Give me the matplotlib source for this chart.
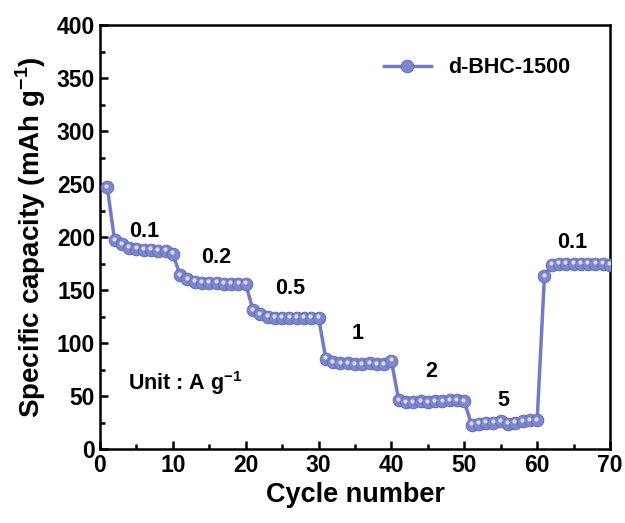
import numpy as np
import matplotlib
matplotlib.use('Agg')
import matplotlib.pyplot as plt

plt.rcParams['font.family'] = ['Liberation Sans', 'DejaVu Sans']
plt.rcParams['font.weight'] = 'bold'
plt.rcParams['mathtext.fontset'] = 'custom'
plt.rcParams['mathtext.bf'] = 'Liberation Sans:bold'
plt.rcParams['mathtext.rm'] = 'Liberation Sans:bold'

# rate capability data
cycles = np.arange(1, 71)
capacity = [247, 197, 193, 190, 189, 188, 188, 187, 187, 184,
            164, 160, 158, 157, 157, 157, 156, 156, 156, 156,
            131, 127, 125, 124, 124, 124, 124, 124, 124, 124,
            85, 82, 81, 81, 80, 80, 81, 80, 80, 83,
            46, 44, 44, 45, 44, 45, 45, 46, 46, 45,
            23, 24, 25, 25, 26, 24, 25, 26, 27, 27,
            163, 174, 175, 175, 175, 175, 175, 175, 175, 174]

rate_labels = ['0.1', '0.2', '0.5', '1', '2', '5', '0.1']
label_x = [6.0, 16.0, 26.1, 35.3, 45.5, 55.4, 64.8]
label_y = [205, 181, 151, 109, 73, 46, 195]

line_col = '#737cc2'

fig = plt.figure(figsize=(6.25, 5.23), dpi=100)
ax = fig.add_axes([0.16, 0.1415, 0.816, 0.8105])

ax.plot(cycles, capacity, '-o', color=line_col, lw=2.5, ms=9,
        mfc='#7e87cc', mec='#6871b8', mew=0.8, label='d-BHC-1500', zorder=3)
# small highlight on each sphere
ax.plot(cycles - 0.12, np.array(capacity) + 1.5, 'o', ls='none', ms=3,
        mfc='#e4e6f6', mec='none', alpha=0.9, zorder=4)

for t, x, y in zip(rate_labels, label_x, label_y):
    ax.text(x, y, t, fontsize=15.5, fontweight='bold', ha='center', va='center')

ax.text(3.8, 62, 'Unit : A g$^{-1}$', fontsize=15.5, fontweight='bold',
        ha='left', va='center')

ax.set_xlim(0, 70)
ax.set_ylim(0, 400)
ax.set_xticks(np.arange(0, 71, 10))
ax.set_xticks(np.arange(0, 71, 5), minor=True)
ax.set_yticks(np.arange(0, 401, 50))
ax.set_yticks(np.arange(0, 401, 25), minor=True)
ax.tick_params(which='both', direction='in', width=1.8, labelsize=16.5)
ax.tick_params(which='major', length=6)
ax.tick_params(which='minor', length=3.5)
for s in ax.spines.values():
    s.set_linewidth(1.8)

ax.set_xlabel('Cycle number', fontsize=19.5, fontweight='bold', labelpad=4)
ax.set_ylabel('Specific capacity (mAh g$^{-1}$)', fontsize=20,
              fontweight='bold', labelpad=6)

ax.legend(loc='upper right', frameon=False, fontsize=15.5, handlelength=2.2,
          bbox_to_anchor=(0.96, 0.97))

fig.savefig('out.png', dpi=100)
